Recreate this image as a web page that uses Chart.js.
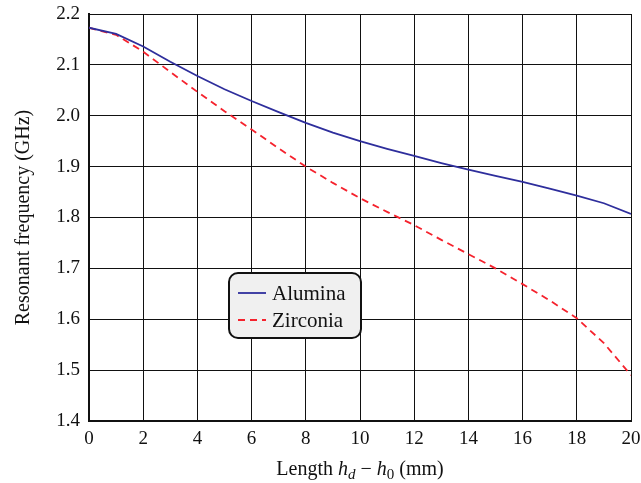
<!DOCTYPE html>
<html>
<head>
<meta charset="utf-8">
<script src="https://cdn.jsdelivr.net/npm/chart.js@4"></script>
<style>
  html, body { margin: 0; padding: 0; background: #ffffff; }
  #wrap { width: 641px; height: 483px; }
</style>
</head>
<body>
<div id="wrap"><canvas id="c" width="641" height="483"></canvas></div>
<script>
/* resonant frequency vs length — alumina / zirconia */

const lengths  = [0, 1, 2, 3, 4, 5, 6, 7, 8, 9, 10, 11, 12, 13, 14, 15, 16, 17, 18, 19, 20];
const alumina  = [2.173, 2.161, 2.136, 2.106, 2.078, 2.052, 2.029, 2.007, 1.986, 1.967, 1.950,
                  1.935, 1.921, 1.907, 1.894, 1.882, 1.870, 1.857, 1.843, 1.828, 1.807];
const zirconia = [2.173, 2.159, 2.126, 2.086, 2.047, 2.009, 1.973, 1.936, 1.900, 1.868, 1.838,
                  1.811, 1.785, 1.756, 1.728, 1.700, 1.669, 1.637, 1.602, 1.553, 1.490];
const seriesNames = ['Alumina', 'Zirconia'];

const SERIF = "'Liberation Serif', 'DejaVu Serif', serif";
const BLUE  = '#2e2e9c';
const RED   = '#f5222d';
const INK   = '#111111';

const pts = ys => lengths.map((x, i) => ({ x, y: ys[i] }));

/* legend box drawn inside the plot, like the original */
const boxLegend = {
  id: 'boxLegend',
  afterDraw(chart) {
    const { ctx } = chart;
    const x = 229, y = 273, w = 132, h = 65, r = 9;
    ctx.save();
    ctx.beginPath();
    ctx.roundRect(x, y, w, h, r);
    ctx.fillStyle = '#f0f0f0';
    ctx.fill();
    ctx.lineWidth = 2;
    ctx.strokeStyle = INK;
    ctx.stroke();
    const rows = [
      { label: seriesNames[0], color: BLUE, dash: [] },
      { label: seriesNames[1], color: RED,  dash: [7, 5] },
    ];
    rows.forEach((row, i) => {
      const cy = y + 20 + i * 27;
      ctx.beginPath();
      ctx.setLineDash(row.dash);
      ctx.lineWidth = 1.8;
      ctx.strokeStyle = row.color;
      ctx.moveTo(x + 9, cy);
      ctx.lineTo(x + 37, cy);
      ctx.stroke();
      ctx.setLineDash([]);
      ctx.fillStyle = INK;
      ctx.font = `21px ${SERIF}`;
      ctx.textBaseline = 'middle';
      ctx.fillText(row.label, x + 43, cy + 1);
    });
    ctx.restore();
  },
};

/* x title with italic symbols and subscripts */
const xTitle = {
  id: 'xTitle',
  afterDraw(chart) {
    const { ctx, chartArea } = chart;
    const parts = [
      { t: 'Length ', f: `20px ${SERIF}`, dy: 0 },
      { t: 'h', f: `italic 20px ${SERIF}`, dy: 0 },
      { t: 'd', f: `italic 15px ${SERIF}`, dy: 4 },
      { t: ' \u2212 ', f: `20px ${SERIF}`, dy: 0 },
      { t: 'h', f: `italic 20px ${SERIF}`, dy: 0 },
      { t: '0', f: `15px ${SERIF}`, dy: 4 },
      { t: ' (mm)', f: `20px ${SERIF}`, dy: 0 },
    ];
    ctx.save();
    let total = 0;
    parts.forEach(p => { ctx.font = p.f; total += ctx.measureText(p.t).width; });
    let cx = (chartArea.left + chartArea.right) / 2 - total / 2;
    const base = 475;
    ctx.fillStyle = INK;
    ctx.textBaseline = 'alphabetic';
    parts.forEach(p => {
      ctx.font = p.f;
      ctx.fillText(p.t, cx, base + p.dy);
      cx += ctx.measureText(p.t).width;
    });
    ctx.restore();
  },
};

new Chart(document.getElementById('c'), {
  type: 'line',
  data: {
    datasets: [
      {
        label: seriesNames[0],
        data: pts(alumina),
        borderColor: BLUE,
        borderWidth: 1.8,
        pointRadius: 0,
        tension: 0,
        fill: false,
      },
      {
        label: seriesNames[1],
        data: pts(zirconia),
        borderColor: RED,
        borderWidth: 1.8,
        borderDash: [7, 5],
        pointRadius: 0,
        tension: 0,
        fill: false,
      },
    ],
  },
  options: {
    responsive: false,
    animation: false,
    layout: { padding: { left: 12, right: 10, top: 14, bottom: 0 } },
    plugins: {
      legend: { display: false },
      tooltip: { enabled: false },
    },
    scales: {
      x: {
        type: 'linear',
        min: 0, max: 20,
        border: { display: true, color: INK, width: 2 },
        grid: { color: INK, lineWidth: 1, drawTicks: false },
        ticks: {
          stepSize: 2,
          color: INK,
          padding: 7,
          maxRotation: 0,
          font: { family: SERIF, size: 19 },
        },
        afterFit: s => { s.height = 62; s.paddingLeft = 0; s.paddingRight = 0; },
      },
      y: {
        min: 1.4, max: 2.2,
        border: { display: true, color: INK, width: 2 },
        grid: { color: INK, lineWidth: 1, drawTicks: false },
        ticks: {
          stepSize: 0.1,
          color: INK,
          padding: 9,
          font: { family: SERIF, size: 19 },
          callback: v => v.toFixed(1),
        },
        title: {
          display: true,
          text: 'Resonant frequency (GHz)',
          color: INK,
          font: { family: SERIF, size: 20 },
          padding: { top: 0, bottom: 6 },
        },
        afterFit: s => { s.width = 77; s.paddingTop = 0; s.paddingBottom = 0; },
      },
    },
  },
  plugins: [boxLegend, xTitle],
});
</script>
</body>
</html>
